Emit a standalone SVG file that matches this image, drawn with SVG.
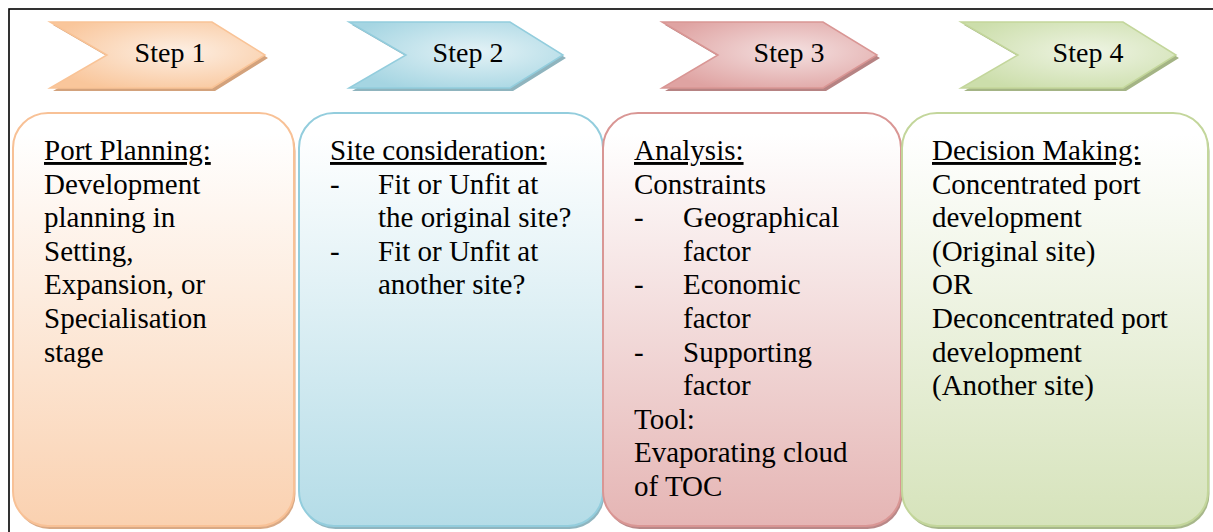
<svg xmlns="http://www.w3.org/2000/svg" width="1213" height="532" viewBox="0 0 1213 532">
<defs>
<linearGradient id="g1" x1="0" y1="0" x2="0" y2="1"><stop offset="0.05" stop-color="#FFFFFF"/><stop offset="1" stop-color="#FAD1B0"/></linearGradient>
<linearGradient id="g2" x1="0" y1="0" x2="0" y2="1"><stop offset="0.05" stop-color="#FFFFFF"/><stop offset="1" stop-color="#B4DCE7"/></linearGradient>
<linearGradient id="g3" x1="0" y1="0" x2="0" y2="1"><stop offset="0.05" stop-color="#FFFFFF"/><stop offset="1" stop-color="#E5B5B4"/></linearGradient>
<linearGradient id="g4" x1="0" y1="0" x2="0" y2="1"><stop offset="0.05" stop-color="#FFFFFF"/><stop offset="1" stop-color="#D6E3BB"/></linearGradient>
<radialGradient id="c1" cx="0.6" cy="0.45" r="0.65"><stop offset="0" stop-color="#FDEFE3"/><stop offset="1" stop-color="#F9C69B"/></radialGradient>
<radialGradient id="c2" cx="0.6" cy="0.45" r="0.65"><stop offset="0" stop-color="#E3F2F6"/><stop offset="1" stop-color="#A5D5E2"/></radialGradient>
<radialGradient id="c3" cx="0.6" cy="0.45" r="0.65"><stop offset="0" stop-color="#F4E0E0"/><stop offset="1" stop-color="#DFA3A2"/></radialGradient>
<radialGradient id="c4" cx="0.6" cy="0.45" r="0.65"><stop offset="0" stop-color="#EEF4E3"/><stop offset="1" stop-color="#CCDEAB"/></radialGradient>
</defs>
<rect x="0" y="0" width="1213" height="532" fill="#FFFFFF"/>
<rect x="9" y="9" width="1210" height="535" fill="none" stroke="#000" stroke-width="1.6"/>

<g id="step1">
<polygon points="53,25 215,25 268,58 215,91 53,91 110,58" fill="#D3A27C"/>
<polygon points="50,22 212,22 265,55 212,88 50,88 107,55" fill="url(#c1)" stroke="#F9C396" stroke-width="1.5"/>
<text x="170" y="62" font-family="Liberation Serif" font-size="28" text-anchor="middle" fill="#000">Step 1</text>
</g>
<g id="step2">
<polygon points="352,25 513,25 566,58 513,91 352,91 409,58" fill="#8FB4BE"/>
<polygon points="349,22 510,22 563,55 510,88 349,88 406,55" fill="url(#c2)" stroke="#93CDDD" stroke-width="1.5"/>
<text x="468" y="62" font-family="Liberation Serif" font-size="28" text-anchor="middle" fill="#000">Step 2</text>
</g>
<g id="step3">
<polygon points="665,25 826,25 880,58 826,91 665,91 721,58" fill="#B68383"/>
<polygon points="662,22 823,22 877,55 823,88 662,88 718,55" fill="url(#c3)" stroke="#D99694" stroke-width="1.5"/>
<text x="789" y="62" font-family="Liberation Serif" font-size="28" text-anchor="middle" fill="#000">Step 3</text>
</g>
<g id="step4">
<polygon points="964,25 1126,25 1179,58 1126,91 964,91 1021,58" fill="#A4B485"/>
<polygon points="961,22 1123,22 1176,55 1123,88 961,88 1018,55" fill="url(#c4)" stroke="#C3D69B" stroke-width="1.5"/>
<text x="1088" y="62" font-family="Liberation Serif" font-size="28" text-anchor="middle" fill="#000">Step 4</text>
</g>

<g id="box1">
<rect x="14.5" y="116" width="281" height="413" rx="35" fill="#D9A985"/>
<rect x="13" y="113" width="281" height="413" rx="35" fill="url(#g1)" stroke="#F8C196" stroke-width="2"/>
<text font-family="Liberation Serif" font-size="29" fill="#000">
<tspan text-decoration="underline" x="44" y="160">Port Planning:</tspan>
<tspan x="44" y="193.6">Development</tspan>
<tspan x="44" y="227.2">planning in</tspan>
<tspan x="44" y="260.8">Setting,</tspan>
<tspan x="44" y="294.4">Expansion, or</tspan>
<tspan x="44" y="328">Specialisation</tspan>
<tspan x="44" y="361.6">stage</tspan>
</text>
</g>
<g id="box2">
<rect x="300.5" y="116" width="304" height="413" rx="35" fill="#8FB5BF"/>
<rect x="299" y="113" width="304" height="413" rx="35" fill="url(#g2)" stroke="#93CDDD" stroke-width="2"/>
<text font-family="Liberation Serif" font-size="29" fill="#000">
<tspan text-decoration="underline" x="330" y="160">Site consideration:</tspan>
<tspan x="330" y="193.6">-</tspan><tspan x="378" y="193.6">Fit or Unfit at</tspan>
<tspan x="378" y="227.2">the original site?</tspan>
<tspan x="330" y="260.8">-</tspan><tspan x="378" y="260.8">Fit or Unfit at</tspan>
<tspan x="378" y="294.4">another site?</tspan>
</text>
</g>
<g id="box3">
<rect x="604.5" y="116" width="298" height="413" rx="35" fill="#B98888"/>
<rect x="603" y="113" width="298" height="413" rx="35" fill="url(#g3)" stroke="#D99694" stroke-width="2"/>
<text font-family="Liberation Serif" font-size="29" fill="#000">
<tspan text-decoration="underline" x="634" y="160">Analysis:</tspan>
<tspan x="634" y="193.6">Constraints</tspan>
<tspan x="634" y="227.2">-</tspan><tspan x="683" y="227.2">Geographical</tspan>
<tspan x="683" y="260.8">factor</tspan>
<tspan x="634" y="294.4">-</tspan><tspan x="683" y="294.4">Economic</tspan>
<tspan x="683" y="328">factor</tspan>
<tspan x="634" y="361.6">-</tspan><tspan x="683" y="361.6">Supporting</tspan>
<tspan x="683" y="395.2">factor</tspan>
<tspan x="634" y="428.8">Tool:</tspan>
<tspan x="634" y="462.4">Evaporating cloud</tspan>
<tspan x="634" y="496">of TOC</tspan>
</text>
</g>
<g id="box4">
<rect x="903.5" y="116" width="306" height="413" rx="35" fill="#A7B78A"/>
<rect x="902" y="113" width="306" height="413" rx="35" fill="url(#g4)" stroke="#C3D69B" stroke-width="2"/>
<text font-family="Liberation Serif" font-size="29" fill="#000">
<tspan text-decoration="underline" x="932" y="160">Decision Making:</tspan>
<tspan x="932" y="193.6">Concentrated port</tspan>
<tspan x="932" y="227.2">development</tspan>
<tspan x="932" y="260.8">(Original site)</tspan>
<tspan x="932" y="294.4">OR</tspan>
<tspan x="932" y="328">Deconcentrated port</tspan>
<tspan x="932" y="361.6">development</tspan>
<tspan x="932" y="395.2">(Another site)</tspan>
</text>
</g>
<g id="connectors"></g>
</svg>
